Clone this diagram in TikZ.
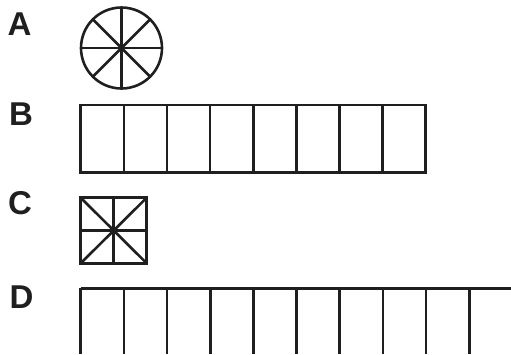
\documentclass[tikz,border=0pt]{standalone}
\usepackage{fontspec}
\setmainfont{Liberation Sans}
\begin{document}
\begin{tikzpicture}[x=1pt,y=-1pt,
  shape line/.style={line width=2.6pt,black!88},
  letter/.style={anchor=base west,inner sep=0pt,font=\fontsize{33}{33}\selectfont\bfseries,text=black!88}]
\useasboundingbox (0,0) rectangle (511,354);
% labels
\node[letter] (lA) at (7.5,35) {A};
\node[letter] (lB) at (9,125) {B};
\node[letter] (lC) at (8,214.5) {C};
\node[letter] (lD) at (9.5,308) {D};
% A: circle with 8 spokes
\coordinate (cA) at (121.5,48);
\draw[shape line] (cA) circle[radius=40.5];
\foreach \a in {0,45,...,315}
  \draw[shape line] (cA) -- ++({40.5*cos(\a)},{40.5*sin(\a)});
% B: 8 cells
\draw[shape line] (80.7,105) rectangle (425.7,172.7);
\foreach \i in {1,...,7}
  \draw[shape line] ({80.7+\i*43.125},105) -- ({80.7+\i*43.125},172.7);
% C: square with cross and diagonals
\draw[shape line] (80.7,197.7) rectangle (146.7,263.3);
\draw[shape line] (113.7,197.7) -- (113.7,263.3);
\draw[shape line] (80.7,230.5) -- (146.7,230.5);
\draw[shape line] (80.7,197.7) -- (146.7,263.3);
\draw[shape line] (80.7,263.3) -- (146.7,197.7);
% D: open cells
\draw[shape line] (80.7,288.3) -- (511,288.3);
\foreach \i in {0,...,9}
  \draw[shape line] ({80.7+\i*43.18},288.3) -- ({80.7+\i*43.18},354);
\end{tikzpicture}
\end{document}
